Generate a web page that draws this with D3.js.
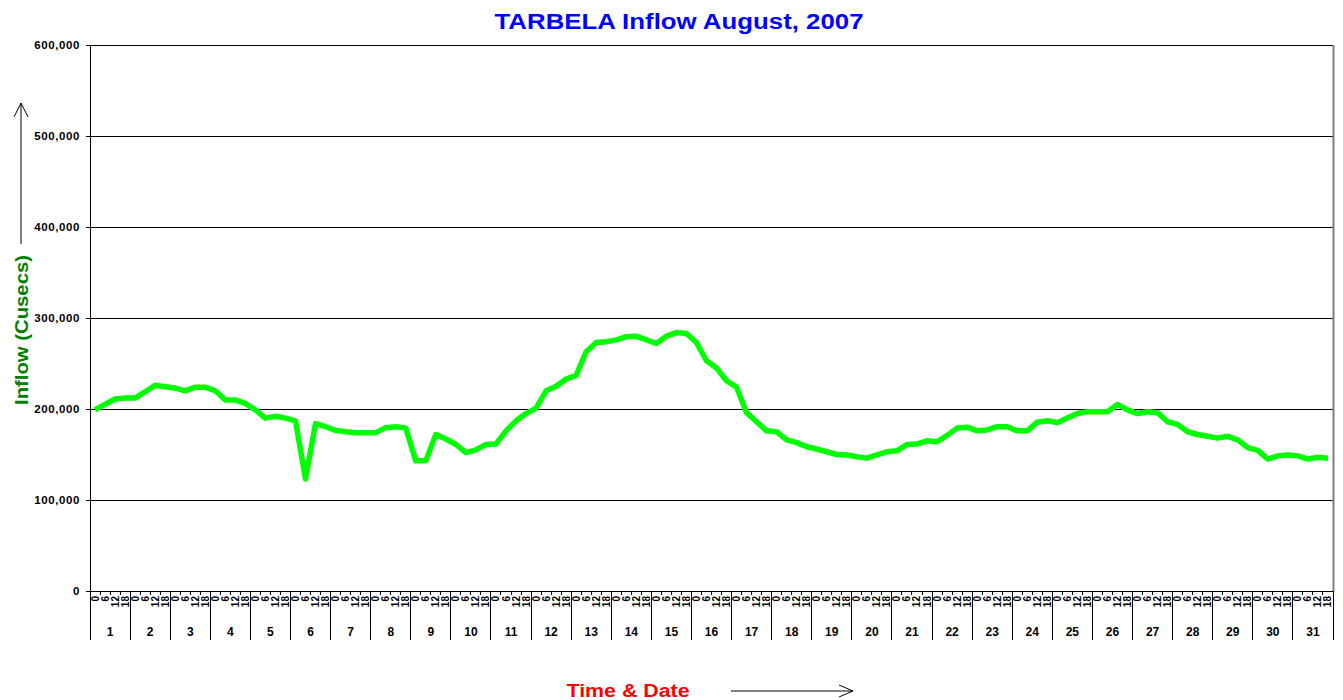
<!DOCTYPE html>
<html lang="en">
<head>
    <meta charset="UTF-8">
    <title>TARBELA Inflow August, 2007</title>
    <script src="https://cdn.jsdelivr.net/npm/d3@7/dist/d3.min.js"></script>
    <style>
        body { margin: 0; background: #fff; }
        text { font-family: "Liberation Sans", Arial, sans-serif; font-weight: bold; }
    </style>
</head>
<body>
<script>
    // four readings a day (0, 6, 12, 18 hrs) for 1..31 August
    var days = d3.range(1, 32);
    var hours = [0, 6, 12, 18];
    var yTicks = [0, 100000, 200000, 300000, 400000, 500000, 600000];
    var inflow = [
        199000, 205000, 211000, 212000,   // 1
        212000, 219000, 226000, 224500,   // 2
        223000, 220000, 224000, 224000,   // 3
        220000, 210000, 210000, 206000,   // 4
        199000, 190000, 192000, 190000,   // 5
        187000, 123000, 184000, 180500,   // 6
        176500, 175000, 174000, 174000,   // 7
        174000, 179500, 180500, 179000,   // 8
        143000, 143000, 172000, 167000,   // 9
        161000, 152000, 155000, 161000,   // 10
        161500, 176000, 187000, 195000,   // 11
        201000, 220000, 225000, 233000,   // 12
        237000, 263000, 273000, 274000,   // 13
        276000, 279500, 280000, 276000,   // 14
        272000, 280000, 284000, 283000,   // 15
        273000, 253000, 245000, 231000,   // 16
        224000, 196000, 186000, 176000,   // 17
        175000, 166000, 163000, 158500,   // 18
        156000, 153000, 150000, 149500,   // 19
        147500, 146000, 149500, 153000,   // 20
        154000, 161000, 161500, 165000,   // 21
        164000, 171000, 179000, 180000,   // 22
        176000, 177000, 180500, 180500,   // 23
        176000, 176000, 185500, 187000,   // 24
        185000, 190000, 195000, 197000,   // 25
        197000, 197000, 205000, 199000,   // 26
        195000, 197000, 196000, 186000,   // 27
        183000, 175000, 172000, 170000,   // 28
        168000, 170000, 166000, 157500,   // 29
        154500, 145000, 148500, 149500,   // 30
        148500, 145000, 147000, 146000    // 31
    ];

    var W = 1343, H = 700;
    var pLeft = 90, pRight = 1333, pTop = 45, pBottom = 591;

    var svg = d3.select("body").append("svg").attr("width", W).attr("height", H);

    var x = d3.scaleBand().domain(d3.range(inflow.length)).range([pLeft, pRight]);
    var xDay = d3.scaleBand().domain(days).range([pLeft, pRight]);
    var y = d3.scaleLinear().domain([0, 600000]).range([pBottom, pTop]);

    // gridlines
    svg.append("g").selectAll("line").data(yTicks.filter(function (d) { return d > 0; }))
        .enter().append("line")
        .attr("x1", pLeft).attr("x2", pRight)
        .attr("y1", function (d) { return Math.round(y(d)) + 0.5; })
        .attr("y2", function (d) { return Math.round(y(d)) + 0.5; })
        .attr("stroke", "#000").attr("stroke-width", 1);

    // right border of plot
    svg.append("line").attr("x1", pRight + 0.5).attr("x2", pRight + 0.5).attr("y1", pTop).attr("y2", pBottom)
        .attr("stroke", "#808080").attr("stroke-width", 2);

    // y axis
    var yAxis = svg.append("g").attr("transform", "translate(" + pLeft + ",0)")
        .call(d3.axisLeft(y).tickValues(yTicks).tickSize(4).tickSizeOuter(0).tickPadding(6)
            .tickFormat(d3.format(",")));
    yAxis.selectAll("text").attr("font-size", "11.5px").attr("fill", "#000")
        .attr("letter-spacing", "0.6px");
    yAxis.select(".domain").attr("stroke", "#000").attr("shape-rendering", "crispEdges");
    yAxis.selectAll(".tick line").attr("stroke", "#000").attr("shape-rendering", "crispEdges");

    // hour axis (category labels)
    var hAxis = svg.append("g").attr("transform", "translate(0," + pBottom + ")")
        .call(d3.axisBottom(x).tickSize(0).tickSizeOuter(0)
            .tickFormat(function (i) { return hours[i % 4]; }));
    hAxis.select(".domain").attr("stroke", "#000").attr("shape-rendering", "crispEdges");
    hAxis.selectAll("text")
        .attr("font-size", "10px").attr("fill", "#000")
        .attr("transform", "rotate(-90)")
        .attr("x", -5).attr("y", 0).attr("dy", "0.35em")
        .attr("text-anchor", "end");

    // minor ticks at each category boundary
    svg.append("g").selectAll("line").data(d3.range(inflow.length))
        .enter().append("line")
        .attr("x1", function (i) { return x(i); }).attr("x2", function (i) { return x(i); })
        .attr("y1", pBottom).attr("y2", pBottom + 4)
        .attr("stroke", "#000").attr("shape-rendering", "crispEdges");

    // day separators and labels
    var dayG = svg.append("g");
    dayG.selectAll("line").data(days.concat([32]))
        .enter().append("line")
        .attr("x1", function (d) { return d < 32 ? xDay(d) : pRight; })
        .attr("x2", function (d) { return d < 32 ? xDay(d) : pRight; })
        .attr("y1", pBottom).attr("y2", pBottom + 49)
        .attr("stroke", "#000").attr("shape-rendering", "crispEdges");
    dayG.selectAll("text").data(days)
        .enter().append("text")
        .attr("x", function (d) { return xDay(d) + xDay.bandwidth() / 2; })
        .attr("y", pBottom + 45)
        .attr("text-anchor", "middle").attr("font-size", "12px").attr("fill", "#000")
        .text(function (d) { return d; });

    // inflow line
    var line = d3.line()
        .x(function (d, i) { return x(i) + x.bandwidth() / 2; })
        .y(function (d) { return y(d); });
    svg.append("path").datum(inflow)
        .attr("d", line)
        .attr("fill", "none").attr("stroke", "#00ff00")
        .attr("stroke-width", 5.5).attr("stroke-linejoin", "round");

    // title
    svg.append("text").attr("x", 679).attr("y", 29)
        .attr("text-anchor", "middle").attr("font-size", "22px").attr("fill", "#0000ff")
        .attr("textLength", 369).attr("lengthAdjust", "spacingAndGlyphs")
        .text("TARBELA Inflow August, 2007");

    // y axis title with arrow
    svg.append("text").attr("transform", "translate(28,330) rotate(-90)")
        .attr("text-anchor", "middle").attr("font-size", "19px").attr("fill", "#008000")
        .attr("textLength", 150).attr("lengthAdjust", "spacingAndGlyphs")
        .text("Inflow (Cusecs)");
    svg.append("line").attr("x1", 21).attr("x2", 21).attr("y1", 244).attr("y2", 103)
        .attr("stroke", "#000");
    svg.append("path").attr("d", "M14,117 L21,103 L28,117")
        .attr("fill", "none").attr("stroke", "#000");

    // x axis title with arrow
    svg.append("text").attr("x", 628).attr("y", 697)
        .attr("text-anchor", "middle").attr("font-size", "18px").attr("fill", "#ff0000")
        .attr("textLength", 123).attr("lengthAdjust", "spacingAndGlyphs")
        .text("Time & Date");
    svg.append("line").attr("x1", 731).attr("x2", 853).attr("y1", 691).attr("y2", 691)
        .attr("stroke", "#000");
    svg.append("path").attr("d", "M839,685 L853,691 L839,697")
        .attr("fill", "none").attr("stroke", "#000");
</script>
</body>
</html>
